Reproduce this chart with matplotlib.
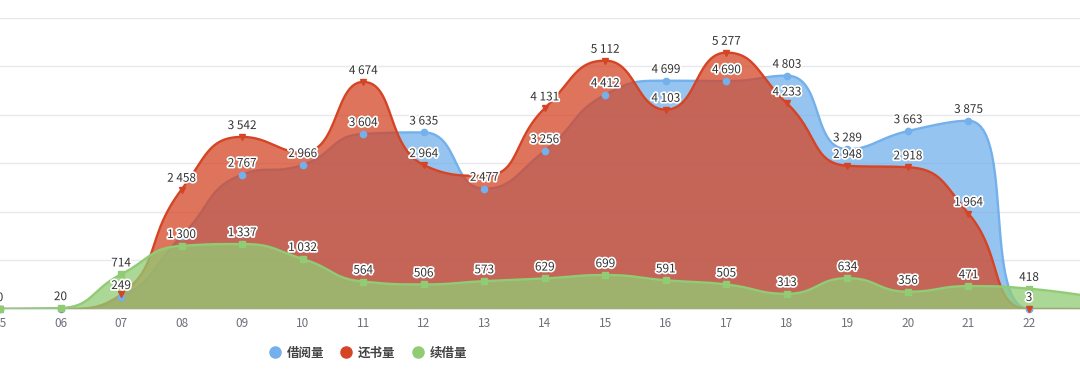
import numpy as np
import matplotlib
matplotlib.use('Agg')
import matplotlib.pyplot as plt
import matplotlib.patheffects as pe
from matplotlib.lines import Line2D

plt.rcParams['font.family'] = ['Noto Sans CJK SC', 'DejaVu Sans']

hours = [5, 6, 7, 8, 9, 10, 11, 12, 13, 14, 15, 16, 17, 18, 19, 20, 21, 22, 23]
hour_labels = [f'{h:02d}' for h in hours]
borrow = [0, 0, 249, 1500, 2767, 2966, 3604, 3635, 2477, 3256, 4412, 4699, 4690, 4803, 3289, 3663, 3875, 3, 0]
returned = [0, 0, 300, 2458, 3542, 3220, 4674, 2964, 2740, 4131, 5112, 4103, 5277, 4233, 2948, 2918, 1964, 0, 0]
renew = [0, 20, 714, 1300, 1337, 1032, 564, 506, 573, 629, 699, 591, 505, 313, 634, 356, 471, 418, 260]

names = ['借阅量', '还书量', '续借量']
colors = ['#73B0EC', '#D54525', '#91CC75']
markers = ['o', 'v', 's']

W, H = 1080, 384
x_left, x_right = 5 + 0.56 / 60.56, 22 + 51 / 60.56
y_top_px, y_base_px = 17.5, 309


def echarts_smooth(xs, ys, sx, sy, smooth=0.5, steps=30):
    px = np.asarray(xs, float) * sx
    py = np.asarray(ys, float) * sy
    n = len(px)
    out_x, out_y = [px[0]], [py[0]]
    cp0 = (px[0], py[0])
    t = np.linspace(0, 1, steps)[1:]
    for i in range(1, n):
        x, y = px[i], py[i]
        if i < n - 1:
            prx, pry = px[i - 1], py[i - 1]
            nx, ny = px[i + 1], py[i + 1]
            vx, vy = nx - prx, ny - pry
            d0 = np.hypot(x - prx, y - pry)
            d1 = np.hypot(nx - x, ny - y)
            r = d1 / (d0 + d1)
            c1x = x + vx * smooth * r
            c1y = y + vy * smooth * r
            c1x = max(min(c1x, max(nx, x)), min(nx, x))
            c1y = max(min(c1y, max(ny, y)), min(ny, y))
            vx, vy = c1x - x, c1y - y
            c0x = x - vx * d0 / d1
            c0y = y - vy * d0 / d1
            c0x = max(min(c0x, max(prx, x)), min(prx, x))
            c0y = max(min(c0y, max(pry, y)), min(pry, y))
            vx, vy = x - c0x, y - c0y
            c1x = x + vx * d1 / d0
            c1y = y + vy * d1 / d0
        else:
            c0x, c0y = x, y
            c1x, c1y = x, y
        p0 = (px[i - 1], py[i - 1])
        bx = ((1 - t) ** 3 * p0[0] + 3 * (1 - t) ** 2 * t * cp0[0]
              + 3 * (1 - t) * t ** 2 * c0x + t ** 3 * x)
        by = ((1 - t) ** 3 * p0[1] + 3 * (1 - t) ** 2 * t * cp0[1]
              + 3 * (1 - t) * t ** 2 * c0y + t ** 3 * y)
        out_x.extend(bx)
        out_y.extend(by)
        cp0 = (c1x, c1y)
    return np.array(out_x) / sx, np.array(out_y) / sy


fig = plt.figure(figsize=(W / 100, H / 100), dpi=100)
ax = fig.add_axes([0, (H - y_base_px) / H, 1, (y_base_px - y_top_px) / H])
ax.set_xlim(x_left, x_right)
ax.set_ylim(0, 6000)
ax.set_yticks(np.arange(0, 6001, 1000))
ax.set_yticklabels([])
ax.set_xticks(hours[:-1])
ax.set_xticklabels(hour_labels[:-1])
ax.tick_params(axis='y', length=0)
ax.tick_params(axis='x', length=0, pad=6, labelsize=8.5, labelcolor='#6E7079')
ax.grid(axis='y', color='#E6E9EF', lw=1)
ax.set_axisbelow(True)
for s in ['top', 'right', 'left']:
    ax.spines[s].set_visible(False)
ax.spines['bottom'].set_color('#DDE2EB')
ax.spines['bottom'].set_zorder(0.5)

sx = 60.56
sy = (y_base_px - y_top_px) / 6000
series = [borrow, returned, renew]
for k, vals in enumerate(series):
    cx, cy = echarts_smooth(hours, vals, sx, sy)
    ax.fill_between(cx, 0, cy, color=colors[k], alpha=0.75, lw=0, zorder=2 + k)
    ax.plot(cx, cy, color=colors[k], lw=1.7, zorder=2 + k)
    ax.plot(hours, vals, ls='none', marker=markers[k], ms=4.5,
            color=colors[k], zorder=6 + k, clip_on=False)

# labels, hide overlaps (green first, then blue, then red)
fig.canvas.draw()
placed = []
order = [2, 0, 1]
outline = [pe.withStroke(linewidth=2.5, foreground='white')]
for k in order:
    for h, v in zip(hours, series[k]):
        if h > x_right:
            continue
        text = f'{v:,}'.replace(',', ' ')
        xp, yp = ax.transData.transform((h, v))
        cyp = yp + 9
        w = len(text) * 6.4 + 2
        hgt = 14
        box = (xp - w / 2, cyp - hgt / 2, xp + w / 2, cyp + hgt / 2)
        hit = any(not (box[2] < b[0] or box[0] > b[2] or box[3] < b[1] or box[1] > b[3])
                  for b in placed)
        if hit:
            continue
        placed.append(box)
        ax.annotate(text, (h, v), xytext=(0, 3.5), textcoords='offset points',
                    ha='center', va='bottom', fontsize=8.5, color='#333333',
                    path_effects=outline, zorder=20, annotation_clip=False)

handles = [Line2D([], [], ls='none', marker='o', ms=8, color=c) for c in colors]
fig.legend(handles, names, loc='center', bbox_to_anchor=(368 / W, 1 - 353 / H),
           ncol=3, frameon=False, handlelength=1, handletextpad=0.45,
           columnspacing=1.3, prop={'size': 9, 'weight': 'bold'}, labelcolor='#444444')

fig.savefig('out.png', dpi=100)
